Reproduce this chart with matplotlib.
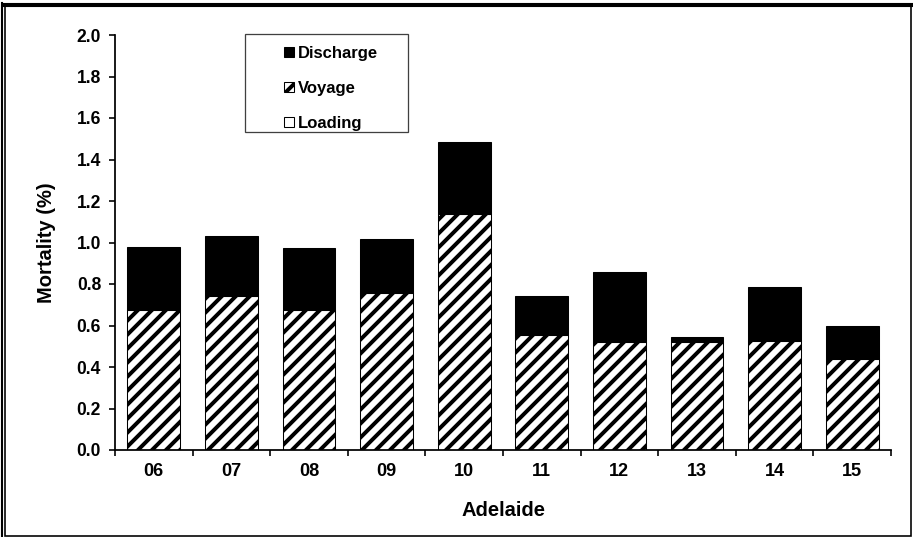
import matplotlib

matplotlib.use("Agg")
import matplotlib.pyplot as plt
import numpy as np
from matplotlib.patches import Rectangle
from matplotlib.lines import Line2D

years = ["06", "07", "08", "09", "10", "11", "12", "13", "14", "15"]
loading = [0.0, 0.0, 0.0, 0.0, 0.0, 0.0, 0.0, 0.0, 0.0, 0.0]
voyage = [0.675, 0.742, 0.675, 0.755, 1.135, 0.555, 0.52, 0.52, 0.525, 0.44]
discharge = [0.305, 0.29, 0.30, 0.26, 0.35, 0.185, 0.34, 0.025, 0.26, 0.16]
y_ticks = [0.0, 0.2, 0.4, 0.6, 0.8, 1.0, 1.2, 1.4, 1.6, 1.8, 2.0]

# hatch tiles are one inch wide, so the dpi sets the stripe spacing
DPI = 84
W, H = 913, 537

plt.rcParams.update(
    {
        "font.family": ["Liberation Sans", "DejaVu Sans"],
        "font.weight": "bold",
        "font.size": 14,
        "hatch.linewidth": 3.4,
        "hatch.color": "black",
    }
)

fig = plt.figure(figsize=(W / DPI, H / DPI), dpi=DPI)
fig.patch.set_facecolor("white")
ax = fig.add_axes([115 / W, 1 - 450 / H, 776 / W, 415 / H])

x = np.arange(len(years))
width = 0.68
load_arr = np.array(loading)
voy_arr = np.array(voyage)
dis_arr = np.array(discharge)

ax.bar(x, load_arr, width, color="white", edgecolor="black", linewidth=0.9, label="Loading")
ax.bar(x, voy_arr, width, bottom=load_arr, color="white", edgecolor="black",
       hatch="//", linewidth=0.9, label="Voyage")
ax.bar(x, dis_arr, width, bottom=load_arr + voy_arr, color="black", edgecolor="black",
       linewidth=0.9, label="Discharge")

ax.set_xlim(-0.5, len(years) - 0.5)
ax.set_ylim(0, 2.0)
ax.set_yticks(y_ticks)
ax.set_yticklabels([f"{v:.1f}" for v in y_ticks])
ax.set_xticks(x)
ax.set_xticklabels(years)
ax.set_xticks(np.arange(-0.5, len(years)), minor=True)
ax.tick_params(axis="x", which="major", length=0, pad=11, labelsize=15.5)
ax.tick_params(axis="x", which="minor", length=5, width=1.4, direction="out")
ax.tick_params(axis="y", length=5, width=1.4, direction="out", pad=7, labelsize=15)

for side in ("top", "right"):
    ax.spines[side].set_visible(False)
for side in ("left", "bottom"):
    ax.spines[side].set_linewidth(1.5)

ax.set_ylabel("Mortality (%)", fontsize=17.3, fontweight="bold", labelpad=18)
ax.set_xlabel("Adelaide", fontsize=17.3, fontweight="bold", labelpad=18)

handles, labels = ax.get_legend_handles_labels()
leg = ax.legend(
    handles[::-1],
    labels[::-1],
    loc="upper left",
    bbox_to_anchor=(0.199, 1.01),
    frameon=False,
    handlelength=0.55,
    handleheight=0.55,
    handletextpad=0.25,
    labelspacing=1.2,
    fontsize=14.3,
)

# legend frame box
fig.patches.append(
    Rectangle((245 / W, 1 - 132 / H), 163 / W, 98 / H, transform=fig.transFigure,
              fill=False, edgecolor="#404040", linewidth=1.1)
)

# outer picture border
fig.patches.append(
    Rectangle((4.5 / W, 1.5 / H), 906 / W, 530 / H, transform=fig.transFigure,
              fill=False, edgecolor="black", linewidth=1.4)
)
fig.lines.append(Line2D([4.5 / W, 911 / W], [1 - 5 / H, 1 - 5 / H],
                        transform=fig.transFigure, color="black", linewidth=3.5))
fig.lines.append(Line2D([1.5 / W, 1.5 / W], [1.5 / H, 1 - 3 / H],
                        transform=fig.transFigure, color="black", linewidth=1.8))

fig.savefig("out.png", dpi=DPI, facecolor="white")
